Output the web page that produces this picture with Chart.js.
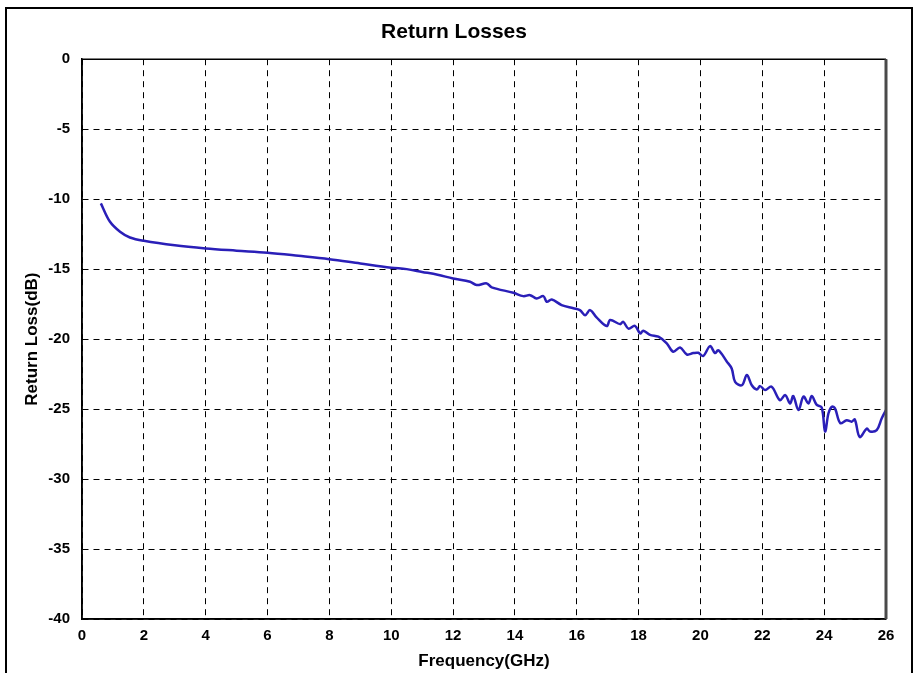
<!DOCTYPE html>
<html>
<head>
<meta charset="utf-8">
<script src="https://cdn.jsdelivr.net/npm/chart.js@4/dist/chart.umd.min.js"></script>
<style>
    html, body { margin: 0; padding: 0; background: #fff; overflow: hidden; }
    #frame { position: absolute; left: 5px; top: 7px; width: 904px; height: 720px; border: 2px solid #000; }
    #chart { position: absolute; left: 0; top: 0; }
</style>
</head>
<body>
<div id="frame"></div>
<canvas id="chart" width="915" height="673"></canvas>
<script>
// values
const freqGHz = [
    0.61, 0.9, 1.23, 1.55, 2.0, 3.0, 4.0, 5.0, 6.0, 7.0, 8.0, 9.0, 10.0, 10.5, 11.0, 11.5, 12.0,
    12.55, 12.76, 13.09, 13.25, 13.95, 14.27, 14.49, 14.7, 14.92, 15.03, 15.19, 15.51, 15.89, 16.1,
    16.27, 16.43, 16.64, 16.97, 17.08, 17.4, 17.5, 17.67, 17.88, 18.05, 18.15, 18.37, 18.64, 18.91,
    19.12, 19.34, 19.56, 19.77, 19.93, 20.09, 20.31, 20.47, 20.58, 20.85, 21.01, 21.12, 21.34, 21.5,
    21.66, 21.82, 21.93, 22.09, 22.3, 22.57, 22.74, 22.9, 23.0, 23.17, 23.33, 23.49, 23.6, 23.76,
    23.92, 24.03, 24.14, 24.25, 24.35, 24.52, 24.73, 24.89, 24.99, 25.15, 25.38, 25.48, 25.7, 25.86, 26.0
];
const returnLossDb = [
    -10.3, -11.6, -12.33, -12.74, -12.98, -13.3, -13.52, -13.68, -13.83, -14.05, -14.29, -14.6, -14.9, -15.0, -15.2, -15.4, -15.67,
    -15.9, -16.14, -16.02, -16.3, -16.69, -16.93, -16.86, -17.1, -16.93, -17.33, -17.17, -17.57, -17.8, -17.93,
    -18.29, -17.93, -18.45, -19.07, -18.64, -18.93, -18.76, -19.25, -19.05, -19.6, -19.4, -19.7, -19.83, -20.3,
    -20.9, -20.6, -21.1, -21.0, -20.98, -21.2, -20.5, -21.0, -20.8, -21.6, -22.1, -23.05, -23.3, -22.57,
    -23.3, -23.6, -23.36, -23.64, -23.4, -24.36, -24.0, -24.6, -24.07, -25.07, -24.1, -24.6, -24.07, -24.7,
    -24.88, -26.6, -25.3, -24.83, -24.95, -26.0, -25.8, -25.9, -25.74, -27.0, -26.4, -26.6, -26.5, -25.67, -25.07
];
const xTicks = [0, 2, 4, 6, 8, 10, 12, 14, 16, 18, 20, 22, 24, 26];
const yTicks = [0, -5, -10, -15, -20, -25, -30, -35, -40];

const FONT = '"Liberation Sans", Arial, sans-serif';

// solid frame round the plot area, drawn over the dashed grid
const plotFrame = {
    id: 'plotFrame',
    afterDatasetsDraw(chart) {
        const { ctx, chartArea: a } = chart;
        ctx.save();
        ctx.strokeStyle = '#000';
        ctx.lineWidth = 1.5;
        ctx.beginPath();
        ctx.moveTo(a.right, a.top);
        ctx.lineTo(a.left, a.top);
        ctx.lineTo(a.left, a.bottom);
        ctx.lineTo(a.right, a.bottom);
        ctx.stroke();
        ctx.strokeStyle = '#4a4a4a';
        ctx.lineWidth = 3;
        ctx.beginPath();
        ctx.moveTo(a.right, a.top);
        ctx.lineTo(a.right, a.bottom);
        ctx.stroke();
        ctx.restore();
    }
};

const chart = new Chart(document.getElementById('chart').getContext('2d'), {
    type: 'line',
    data: {
        datasets: [{
            label: 'Return Loss',
            data: freqGHz.map((f, i) => ({ x: f, y: returnLossDb[i] })),
            borderColor: '#2a1fb8',
            borderWidth: 2.5,
            pointRadius: 0,
            tension: 0.35,
            fill: false
        }]
    },
    options: {
        responsive: false,
        animation: false,
        devicePixelRatio: 1,
        layout: { padding: { left: 22, right: 29, top: 0, bottom: 0 } },
        plugins: {
            legend: { display: false },
            tooltip: { enabled: false },
            title: {
                display: true,
                text: 'Return Losses',
                color: '#000',
                font: { family: FONT, size: 21, weight: 'bold' },
                padding: { top: 20, bottom: 14 }
            }
        },
        scales: {
            x: {
                type: 'linear',
                min: 0,
                max: 26,
                afterBuildTicks: s => { s.ticks = xTicks.map(v => ({ value: v })); },
                afterFit: s => { s.height = 54; },
                grid: { color: '#000', lineWidth: 1, drawTicks: false },
                border: { display: true, color: '#000', width: 1.5, dash: [6, 5] },
                ticks: { color: '#000', padding: 8, font: { family: FONT, size: 15, weight: 'bold' } },
                title: {
                    display: true,
                    text: 'Frequency(GHz)',
                    color: '#000',
                    font: { family: FONT, size: 17, weight: 'bold' },
                    padding: { top: 0, bottom: 1 }
                }
            },
            y: {
                min: -40,
                max: 0,
                afterBuildTicks: s => { s.ticks = yTicks.map(v => ({ value: v })); },
                afterFit: s => { s.width = 60; },
                grid: { color: '#000', lineWidth: 1, drawTicks: false },
                border: { display: true, color: '#000', width: 1.5, dash: [6, 5] },
                ticks: { color: '#000', padding: 12, font: { family: FONT, size: 15, weight: 'bold' } },
                title: {
                    display: true,
                    text: 'Return Loss(dB)',
                    color: '#000',
                    font: { family: FONT, size: 17, weight: 'bold' },
                    padding: { top: 0, bottom: 0 }
                }
            }
        }
    },
    plugins: [plotFrame]
});
</script>
</body>
</html>
